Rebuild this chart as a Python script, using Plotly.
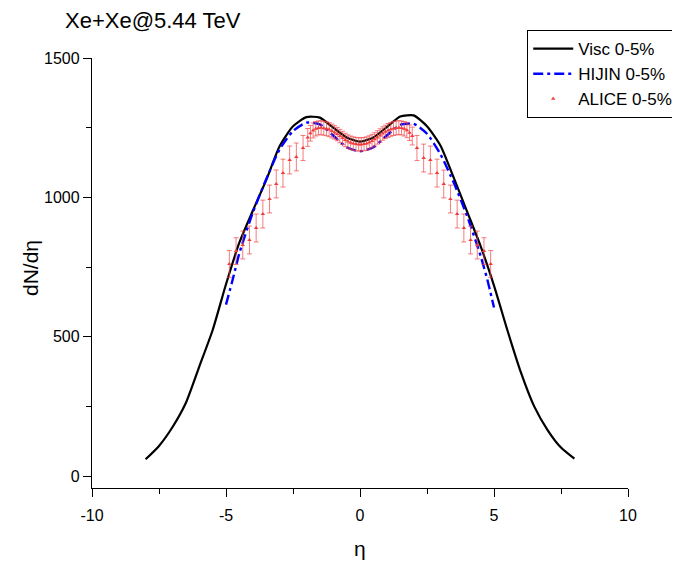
import plotly.graph_objects as go

# ---- Visc 0-5% (hydro) ----
visc_eta = [-8, -7.5, -7, -6.5, -6, -5.5, -5, -4.5, -4, -3.5, -3, -2.5, -2, -1.5, -1, -0.5, 0,
            0.5, 1, 1.5, 2, 2.5, 3, 3.5, 4, 4.5, 5, 5.5, 6, 6.5, 7, 7.5, 8]
visc_dn = [60, 108, 175, 262, 392, 523, 688, 838, 952, 1062, 1183, 1255, 1288, 1286, 1250, 1215, 1200,
           1215, 1252, 1290, 1294, 1255, 1186, 1070, 948, 825, 683, 523, 373, 250, 165, 102, 62]

# ---- HIJIN 0-5% ----
hij_eta = [-5, -4.75, -4.5, -4, -3.5, -3, -2.5, -2, -1.5, -1, -0.5, 0,
           0.5, 1, 1.5, 2, 2.5, 3, 3.5, 4, 4.5, 4.75, 5]
hij_dn = [615, 705, 800, 945, 1065, 1172, 1238, 1268, 1262, 1222, 1180, 1165,
          1180, 1222, 1260, 1264, 1228, 1155, 1052, 932, 790, 705, 605]

# ---- ALICE 0-5% ----
alice_eta = [-4.875, -4.625, -4.375, -4.125, -3.875, -3.625, -3.375, -3.125, -2.875, -2.625, -2.375, -2.125,
             -1.95, -1.85, -1.75, -1.65, -1.55, -1.45, -1.35, -1.25, -1.15, -1.05,
             -0.95, -0.85, -0.75, -0.65, -0.55, -0.45, -0.35, -0.25, -0.15, -0.05,
             0.05, 0.15, 0.25, 0.35, 0.45, 0.55, 0.65, 0.75, 0.85, 0.95,
             1.05, 1.15, 1.25, 1.35, 1.45, 1.55, 1.65, 1.75, 1.85, 1.95,
             2.125, 2.375, 2.625, 2.875, 3.125, 3.375, 3.625, 3.875, 4.125, 4.375, 4.625, 4.875]
alice_dn = [761, 807, 829, 847, 890, 940, 994, 1048, 1087, 1134, 1145, 1177,
            1215, 1230, 1240, 1246, 1249, 1250, 1248, 1246, 1243, 1238,
            1233, 1227, 1220, 1213, 1206, 1200, 1196, 1193, 1191, 1190,
            1190, 1191, 1193, 1197, 1202, 1208, 1215, 1222, 1229, 1235,
            1240, 1244, 1247, 1249, 1250, 1249, 1246, 1241, 1232, 1220,
            1177, 1141, 1134, 1087, 1048, 994, 940, 890, 847, 829, 807, 761]
alice_err = [48, 48, 50, 50, 50, 50, 50, 50, 50, 50, 50, 45,
             32, 28, 27, 26, 25, 25, 25, 25, 25, 25,
             24, 24, 24, 24, 24, 24, 24, 24, 24, 24,
             24, 24, 24, 24, 24, 24, 24, 24, 24, 24,
             25, 25, 25, 25, 25, 25, 26, 27, 28, 32,
             45, 50, 50, 50, 50, 50, 50, 50, 50, 50, 48, 48]

x_tickvals = [-10, -5, 0, 5, 10]
x_ticktext = ["-10", "-5", "0", "5", "10"]
y_tickvals = [0, 500, 1000, 1500]
y_ticktext = ["0", "500", "1000", "1500"]

FONT = "Liberation Sans, Arial, sans-serif"

fig = go.Figure()
fig.add_trace(go.Scatter(x=visc_eta, y=visc_dn, mode="lines", name="Visc 0-5%",
                         line=dict(color="black", width=2.2, shape="spline", smoothing=0.6)))
fig.add_trace(go.Scatter(x=hij_eta, y=hij_dn, mode="lines", name="HIJIN 0-5%",
                         line=dict(color="#0000ff", width=2.4, dash="10px,4px,3px,4px",
                                   shape="spline", smoothing=0.6)))
fig.add_trace(go.Scatter(x=alice_eta, y=alice_dn, mode="markers", name="ALICE 0-5%",
                         marker=dict(symbol="triangle-up", size=4, color="#f03c3c"),
                         error_y=dict(type="data", array=alice_err, visible=True,
                                      color="rgba(240,70,70,0.7)", thickness=1, width=2.5)))

fig.update_layout(
    width=680, height=561,
    margin=dict(l=84, r=60, t=50, b=81, autoexpand=False),
    paper_bgcolor="white", plot_bgcolor="white",
    font=dict(family=FONT, color="black", size=16),
    title=dict(text="Xe+Xe@5.44 TeV", x=57 / 680, xanchor="left", xref="container",
               y=1 - 12 / 561, yanchor="middle", yref="container",
               font=dict(size=22, family=FONT, color="black")),
    showlegend=True,
    legend=dict(x=0.812, y=1.065, xanchor="left", yanchor="top",
                bordercolor="black", borderwidth=1, bgcolor="white",
                font=dict(size=17, family=FONT), tracegroupgap=0,
                itemwidth=40),
    annotations=[
        dict(text="dN/dη", xref="paper", yref="paper", x=-(92 - 30) / 536, y=(488 - 268) / 430,
             xanchor="center", yanchor="middle", textangle=-90, showarrow=False,
             font=dict(size=21, family=FONT, color="black")),
        dict(text="η", xref="paper", yref="paper", x=0.5, y=-(548 - 488) / 430,
             xanchor="center", yanchor="middle", showarrow=False,
             font=dict(size=21, family=FONT, color="black")),
    ],
)
fig.update_xaxes(range=[-10, 10], tickvals=x_tickvals, ticktext=x_ticktext,
                 showline=True, linecolor="black", linewidth=1.3, mirror=False,
                 ticks="outside", ticklen=8, tickwidth=1.3, tickcolor="black",
                 showgrid=False, zeroline=False, ticklabelstandoff=5,
                 minor=dict(dtick=2.5, tick0=0, ticks="outside", ticklen=5, tickcolor="black", tickwidth=1.2),
                 tickfont=dict(size=16))
fig.update_yaxes(range=[-43, 1500], tickvals=y_tickvals, ticktext=y_ticktext,
                 showline=True, linecolor="black", linewidth=1.3, mirror=False,
                 ticks="outside", ticklen=8, tickwidth=1.3, tickcolor="black",
                 showgrid=False, zeroline=False,
                 minor=dict(dtick=250, tick0=0, ticks="outside", ticklen=5, tickcolor="black", tickwidth=1.2),
                 tickfont=dict(size=16))

fig.write_html("out.html")
